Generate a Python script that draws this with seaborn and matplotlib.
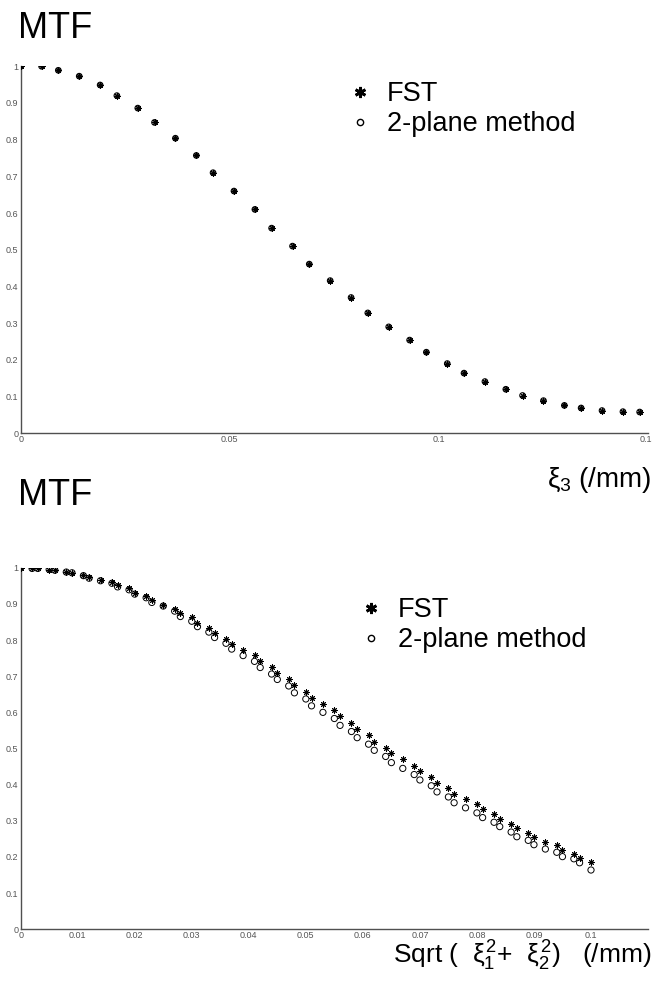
import matplotlib
matplotlib.use("Agg")
import matplotlib.pyplot as plt
from matplotlib.lines import Line2D
import seaborn as sns

sns.set_style("white")
plt.rcParams['font.family'] = ['Liberation Sans', 'DejaVu Sans']
plt.rcParams['text.color'] = 'black'
plt.rcParams['mathtext.fontset'] = 'custom'
plt.rcParams['mathtext.rm'] = 'Liberation Sans'
plt.rcParams['mathtext.it'] = 'Liberation Sans'

# top panel: MTF along xi_3 (both methods coincide)
xi3 = [0, 0.005, 0.009, 0.014, 0.019, 0.023, 0.028, 0.032, 0.037, 0.042, 0.046,
       0.051, 0.056, 0.060, 0.065, 0.069, 0.074, 0.079, 0.083, 0.088, 0.093, 0.097,
       0.102, 0.106, 0.111, 0.116, 0.120, 0.125, 0.130, 0.134, 0.139, 0.144, 0.148]
mtf3_fst = [1.0, 1.0, 0.989, 0.973, 0.949, 0.920, 0.886, 0.847, 0.804, 0.757, 0.710,
            0.660, 0.610, 0.559, 0.510, 0.461, 0.416, 0.370, 0.328, 0.290, 0.254, 0.221,
            0.190, 0.164, 0.141, 0.120, 0.103, 0.089, 0.076, 0.069, 0.062, 0.059, 0.058]
mtf3_2plane = [1.0, 1.0, 0.989, 0.973, 0.949, 0.920, 0.886, 0.847, 0.804, 0.757, 0.710,
               0.660, 0.610, 0.559, 0.510, 0.461, 0.416, 0.370, 0.328, 0.290, 0.254, 0.221,
               0.190, 0.164, 0.141, 0.120, 0.103, 0.089, 0.076, 0.069, 0.062, 0.059, 0.058]

# bottom panel: MTF along sqrt(xi1^2 + xi2^2)
rho = [0, .002, .003, .005, .006, .008, .009, .011, .012, .014, .016, .017, .019,
       .020, .022, .023, .025, .027, .028, .030, .031, .033, .034, .036, .037, .039,
       .041, .042, .044, .045, .047, .048, .050, .051, .053, .055, .056, .058, .059,
       .061, .062, .064, .065, .067, .069, .070, .072, .073, .075, .076, .078, .080,
       .081, .083, .084, .086, .087, .089, .090, .092, .094, .095, .097, .098, .100]
mtf12_fst = [1.0, 0.998, 0.998, 0.995, 0.993, 0.988, 0.986, 0.981, 0.973, 0.966, 0.960,
             0.951, 0.943, 0.931, 0.922, 0.911, 0.898, 0.887, 0.874, 0.863, 0.847, 0.834,
             0.820, 0.804, 0.789, 0.772, 0.758, 0.741, 0.726, 0.710, 0.691, 0.675, 0.657,
             0.640, 0.623, 0.606, 0.589, 0.571, 0.554, 0.536, 0.519, 0.502, 0.487, 0.470,
             0.453, 0.437, 0.422, 0.406, 0.391, 0.375, 0.361, 0.346, 0.332, 0.318, 0.305,
             0.292, 0.279, 0.267, 0.255, 0.242, 0.232, 0.219, 0.209, 0.196, 0.185]
mtf12_2plane = [1.0, 0.998, 0.998, 0.995, 0.993, 0.988, 0.986, 0.978, 0.971, 0.964, 0.957,
                0.947, 0.939, 0.927, 0.917, 0.904, 0.894, 0.880, 0.865, 0.852, 0.837, 0.822,
                0.807, 0.791, 0.775, 0.757, 0.741, 0.724, 0.706, 0.691, 0.673, 0.654, 0.637,
                0.618, 0.600, 0.583, 0.564, 0.547, 0.530, 0.512, 0.495, 0.478, 0.461, 0.445,
                0.428, 0.413, 0.397, 0.380, 0.366, 0.350, 0.336, 0.322, 0.309, 0.296, 0.284,
                0.269, 0.256, 0.246, 0.234, 0.222, 0.213, 0.201, 0.195, 0.184, 0.164]

yticks = [0, 0.1, 0.2, 0.3, 0.4, 0.5, 0.6, 0.7, 0.8, 0.9, 1]
ytick_labels = ["0", "0.1", "0.2", "0.3", "0.4", "0.5", "0.6", "0.7", "0.8", "0.9", "1"]
xticks_top = [0, 0.05, 0.1, 0.15]
xtick_labels_top = ["0", "0.05", "0.1", "0.15"]
xticks_bot = [0, 0.01, 0.02, 0.03, 0.04, 0.05, 0.06, 0.07, 0.08, 0.09, 0.1]
xtick_labels_bot = ["0", "0.01", "0.02", "0.03", "0.04", "0.05", "0.06", "0.07", "0.08", "0.09", "0.1"]

STAR = (8, 2, 0)
axcol = '#505050'

fig = plt.figure(figsize=(6.52, 9.92), dpi=100)
ax1 = fig.add_axes([0.0317, 0.5632, 0.9622, 0.370])
ax2 = fig.add_axes([0.0317, 0.0632, 0.9622, 0.3645])


def style_axes(ax, xmax, xt, xtl):
    ax.set_xlim(0, xmax)
    ax.set_ylim(0, 1)
    ax.set_xticks(xt, xtl)
    ax.set_yticks(yticks, ytick_labels)
    for s in ['top', 'right']:
        ax.spines[s].set_visible(False)
    for s in ['left', 'bottom']:
        ax.spines[s].set_color(axcol)
        ax.spines[s].set_linewidth(1.0)
    ax.tick_params(direction='in', length=4.5, width=0.8, color=axcol,
                   labelsize=6.5, labelcolor='#555555', pad=1.5)
    ax.set_xlabel('')
    ax.set_ylabel('')
    ax.patch.set_alpha(0)


sns.scatterplot(x=xi3, y=mtf3_fst, ax=ax1, marker=STAR, s=16,
                color='black', edgecolor='black', linewidth=0.8, zorder=3)
sns.scatterplot(x=xi3, y=mtf3_2plane, ax=ax1, marker='o', s=16,
                facecolor='none', edgecolor='black', linewidth=0.8, zorder=4)
style_axes(ax1, 0.15, xticks_top, xtick_labels_top)

sns.scatterplot(x=rho, y=mtf12_fst, ax=ax2, marker=STAR, s=16,
                color='black', edgecolor='black', linewidth=0.7, zorder=3)
sns.scatterplot(x=rho, y=mtf12_2plane, ax=ax2, marker='o', s=20,
                facecolor='none', edgecolor='black', linewidth=0.7, zorder=4)
style_axes(ax2, 0.11, xticks_bot, xtick_labels_bot)

handles = [Line2D([], [], linestyle='none', marker=(6, 2, 0), markersize=8,
                  markeredgewidth=2.0, color='black'),
           Line2D([], [], linestyle='none', marker='o', markersize=4.5,
                  markerfacecolor='none', markeredgewidth=1.0, color='black')]
labels = ['FST', '2-plane method']
for ax, anchor in [(ax1, (0.535, 0.918)), (ax2, (0.552, 0.398))]:
    ax.legend(handles, labels, loc='upper left', bbox_to_anchor=anchor,
              bbox_transform=fig.transFigure, frameon=False, fontsize=19.5,
              handlelength=0.8, handletextpad=0.6, labelspacing=0.15,
              borderpad=0, borderaxespad=0)

fig.text(0.028, 0.962, 'MTF', fontsize=26, ha='left', va='baseline')
fig.text(0.028, 0.4905, 'MTF', fontsize=26, ha='left', va='baseline')
fig.text(0.999, 0.509, r'$\xi_3$ (/mm)', fontsize=20, ha='right', va='baseline')
fig.text(0.999, 0.029, r'Sqrt (  $\xi_1^2$+  $\xi_2^2$)   (/mm)', fontsize=19,
         ha='right', va='baseline')

fig.savefig('out.png', dpi=100)
